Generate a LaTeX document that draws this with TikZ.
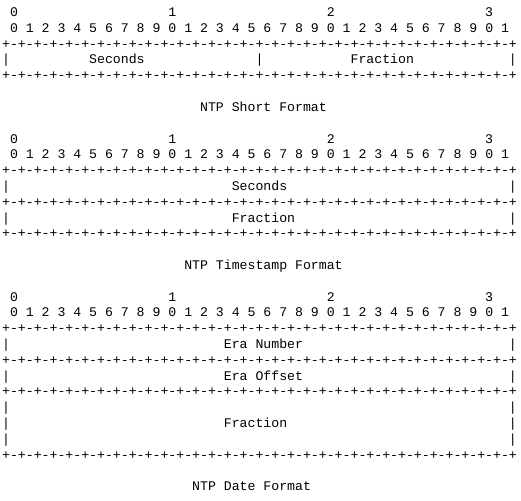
\documentclass[tikz,border=0pt]{standalone}
\usepackage{fontspec}
\setmonofont{Liberation Mono}
\def\hb{+-+-+-+-+-+-+-+-}
\def\brd{\hb\hb\hb\hb+}
\def\dig{0 1 2 3 4 5 6 7 8 9 0 1 2 3 4 5 6 7 8 9 0 1 2 3 4 5 6 7 8 9 0 1}
\tikzset{
  asc/.style={inner sep=0pt, outer sep=0pt, anchor=base west, text=black,
    font=\ttfamily\fontsize{13.2}{15.8}\selectfont},
}
\newcommand\cx[1]{2.1+7.92*#1}
\newcommand\ly[1]{16.6+15.8*#1}
\begin{document}
\begin{tikzpicture}[x=1pt,y=-1pt]
\useasboundingbox (0,0) rectangle (521,500);
% ---------- NTP Short Format
\node[asc] (a0) at ({\cx{1}},{\ly{0}}) {0};
\node[asc] (a1) at ({\cx{21}},{\ly{0}}) {1};
\node[asc] (a2) at ({\cx{41}},{\ly{0}}) {2};
\node[asc] (a3) at ({\cx{61}},{\ly{0}}) {3};
\node[asc] (ad) at ({\cx{1}},{\ly{1}}) {\dig};
\node[asc] (ab1) at ({\cx{0}},{\ly{2}}) {\brd};
\node[asc] (al) at ({\cx{0}},{\ly{3}}) {|};
\node[asc] (asec) at ({\cx{11}},{\ly{3}}) {Seconds};
\node[asc] (am) at ({\cx{32}},{\ly{3}}) {|};
\node[asc] (afr) at ({\cx{44}},{\ly{3}}) {Fraction};
\node[asc] (ar) at ({\cx{64}},{\ly{3}}) {|};
\node[asc] (ab2) at ({\cx{0}},{\ly{4}}) {\brd};
\node[asc] (acap) at ({\cx{25}},{\ly{6}}) {NTP Short Format};
% ---------- NTP Timestamp Format
\node[asc] (b0) at ({\cx{1}},{\ly{8}}) {0};
\node[asc] (b1) at ({\cx{21}},{\ly{8}}) {1};
\node[asc] (b2) at ({\cx{41}},{\ly{8}}) {2};
\node[asc] (b3) at ({\cx{61}},{\ly{8}}) {3};
\node[asc] (bd) at ({\cx{1}},{\ly{9}}) {\dig};
\node[asc] (bb1) at ({\cx{0}},{\ly{10}}) {\brd};
\node[asc] (bl1) at ({\cx{0}},{\ly{11}}) {|};
\node[asc] (bsec) at ({\cx{29}},{\ly{11}}) {Seconds};
\node[asc] (br1) at ({\cx{64}},{\ly{11}}) {|};
\node[asc] (bb2) at ({\cx{0}},{\ly{12}}) {\brd};
\node[asc] (bl2) at ({\cx{0}},{\ly{13}}) {|};
\node[asc] (bfr) at ({\cx{29}},{\ly{13}}) {Fraction};
\node[asc] (br2) at ({\cx{64}},{\ly{13}}) {|};
\node[asc] (bb3) at ({\cx{0}},{\ly{14}}) {\brd};
\node[asc] (bcap) at ({\cx{23}},{\ly{16}}) {NTP Timestamp Format};
% ---------- NTP Date Format
\node[asc] (c0) at ({\cx{1}},{\ly{18}}) {0};
\node[asc] (c1) at ({\cx{21}},{\ly{18}}) {1};
\node[asc] (c2) at ({\cx{41}},{\ly{18}}) {2};
\node[asc] (c3) at ({\cx{61}},{\ly{18}}) {3};
\node[asc] (cd) at ({\cx{1}},{\ly{19}}) {\dig};
\node[asc] (cb1) at ({\cx{0}},{\ly{20}}) {\brd};
\node[asc] (cl1) at ({\cx{0}},{\ly{21}}) {|};
\node[asc] (cen) at ({\cx{28}},{\ly{21}}) {Era Number};
\node[asc] (cr1) at ({\cx{64}},{\ly{21}}) {|};
\node[asc] (cb2) at ({\cx{0}},{\ly{22}}) {\brd};
\node[asc] (cl2) at ({\cx{0}},{\ly{23}}) {|};
\node[asc] (ceo) at ({\cx{28}},{\ly{23}}) {Era Offset};
\node[asc] (cr2) at ({\cx{64}},{\ly{23}}) {|};
\node[asc] (cb3) at ({\cx{0}},{\ly{24}}) {\brd};
\node[asc] (cl3) at ({\cx{0}},{\ly{25}}) {|};
\node[asc] (cr3) at ({\cx{64}},{\ly{25}}) {|};
\node[asc] (cl4) at ({\cx{0}},{\ly{26}}) {|};
\node[asc] (cfr) at ({\cx{28}},{\ly{26}}) {Fraction};
\node[asc] (cr4) at ({\cx{64}},{\ly{26}}) {|};
\node[asc] (cl5) at ({\cx{0}},{\ly{27}}) {|};
\node[asc] (cr5) at ({\cx{64}},{\ly{27}}) {|};
\node[asc] (cb4) at ({\cx{0}},{\ly{28}}) {\brd};
\node[asc] (ccap) at ({\cx{24}},{\ly{30}}) {NTP Date Format};
\end{tikzpicture}
\end{document}
